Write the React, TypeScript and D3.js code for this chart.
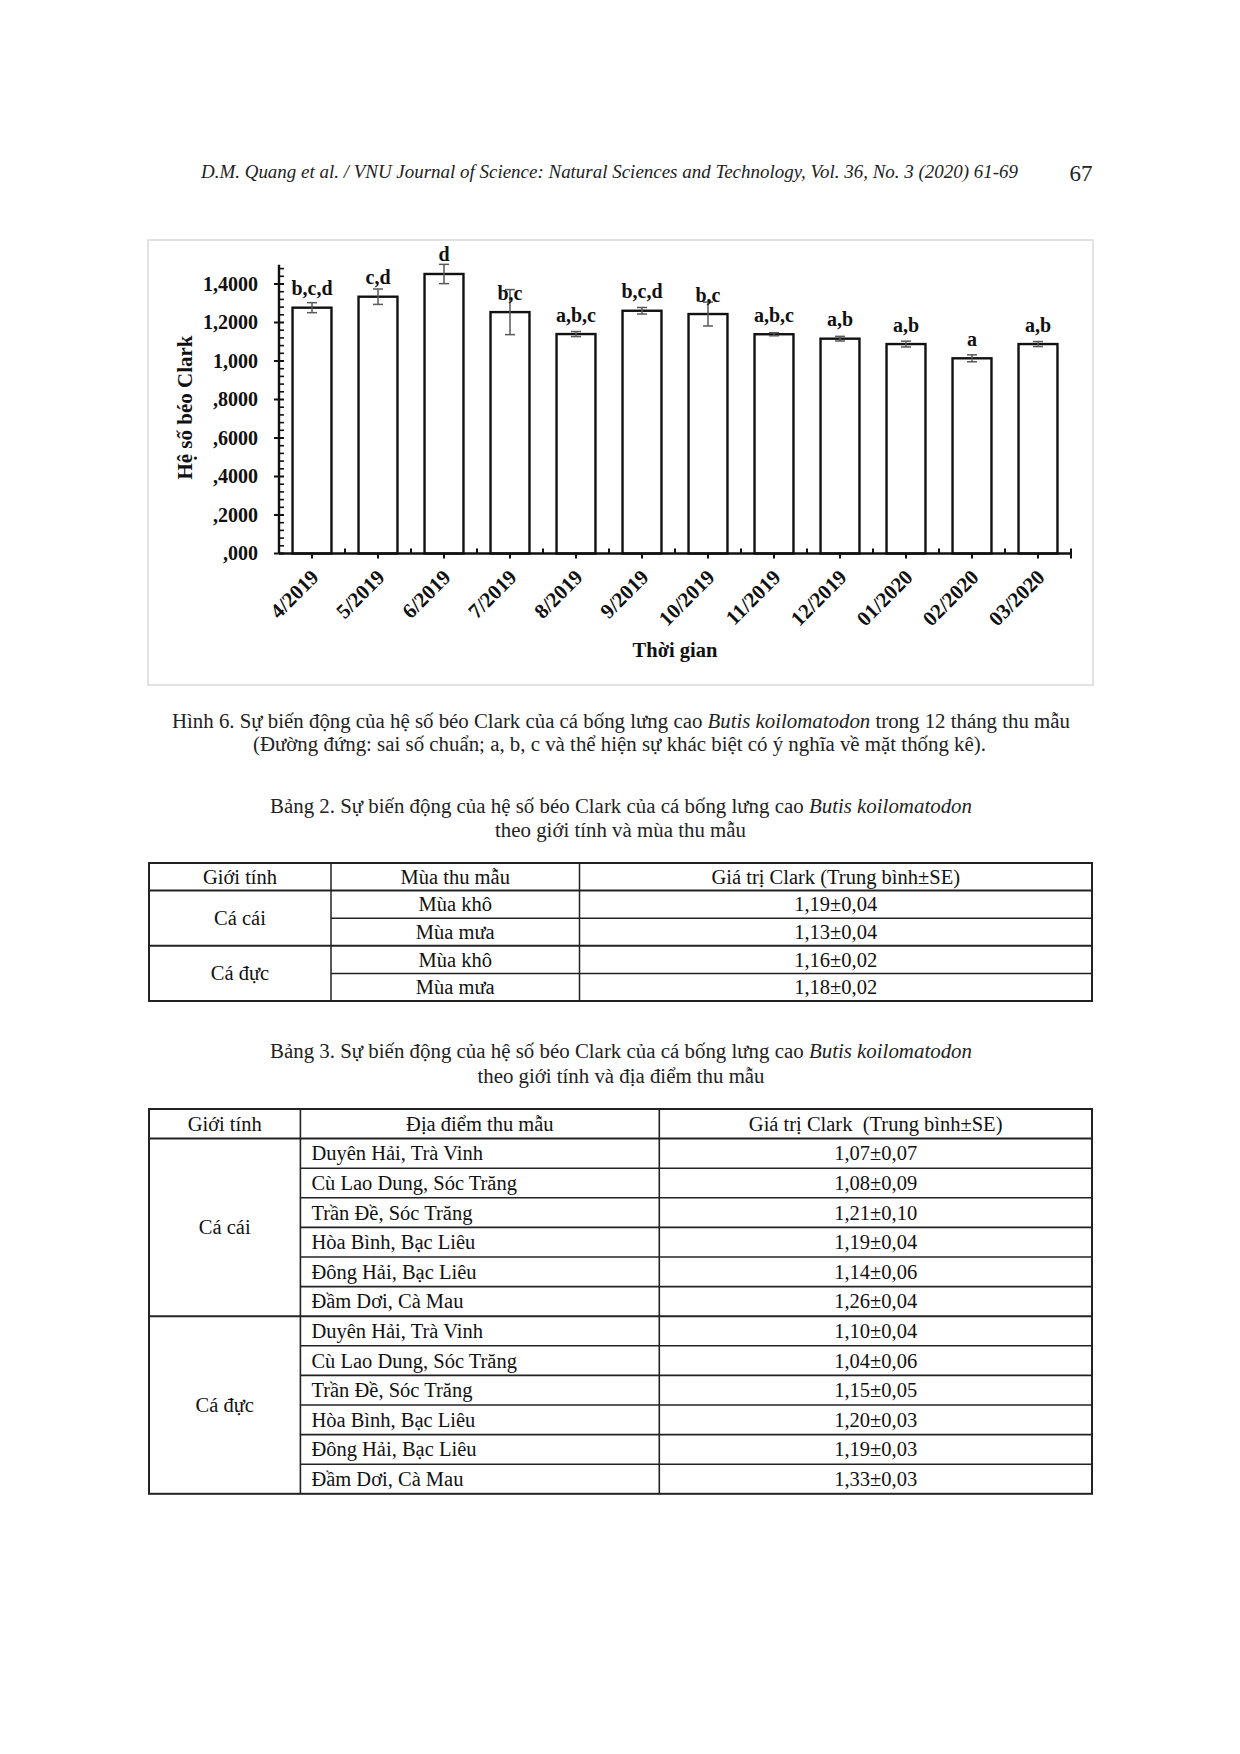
import React from 'react';
import * as d3 from 'd3';

const months = ['4/2019', '5/2019', '6/2019', '7/2019', '8/2019', '9/2019', '10/2019', '11/2019', '12/2019', '01/2020', '02/2020', '03/2020'];
const clarkMeans = [1.277, 1.334, 1.452, 1.254, 1.14, 1.261, 1.244, 1.139, 1.116, 1.088, 1.014, 1.088];
const clarkSE = [0.026, 0.04, 0.05, 0.117, 0.013, 0.017, 0.062, 0.008, 0.012, 0.015, 0.018, 0.013];
const sigLetters = ['b,c,d', 'c,d', 'd', 'b,c', 'a,b,c', 'b,c,d', 'b,c', 'a,b,c', 'a,b', 'a,b', 'a', 'a,b'];
const yTickValues = [0, 0.2, 0.4, 0.6, 0.8, 1.0, 1.2, 1.4];
const yTickLabels = [',000', ',2000', ',4000', ',6000', ',8000', '1,000', '1,2000', '1,4000'];

const t2Header = ['Giới tính', 'Mùa thu mẫu', 'Giá trị Clark (Trung bình±SE)'];
const t2Sex = ['Cá cái', 'Cá đực'];
const t2Season = ['Mùa khô', 'Mùa mưa', 'Mùa khô', 'Mùa mưa'];
const t2Values = ['1,19±0,04', '1,13±0,04', '1,16±0,02', '1,18±0,02'];

const t3Header = ['Giới tính', 'Địa điểm thu mẫu', 'Giá trị Clark  (Trung bình±SE)'];
const t3Sex = ['Cá cái', 'Cá đực'];
const t3Sites = [
  'Duyên Hải, Trà Vinh', 'Cù Lao Dung, Sóc Trăng', 'Trần Đề, Sóc Trăng', 'Hòa Bình, Bạc Liêu', 'Đông Hải, Bạc Liêu', 'Đầm Dơi, Cà Mau',
  'Duyên Hải, Trà Vinh', 'Cù Lao Dung, Sóc Trăng', 'Trần Đề, Sóc Trăng', 'Hòa Bình, Bạc Liêu', 'Đông Hải, Bạc Liêu', 'Đầm Dơi, Cà Mau',
];
const t3Values = [
  '1,07±0,07', '1,08±0,09', '1,21±0,10', '1,19±0,04', '1,14±0,06', '1,26±0,04',
  '1,10±0,04', '1,04±0,06', '1,15±0,05', '1,20±0,03', '1,19±0,03', '1,33±0,03',
];

const SERIF = '"Liberation Serif", "Times New Roman", "DejaVu Serif", serif';

function Chart() {
  const x0 = 279, x1 = 1071, yBottom = 553.5, yTop = 264.75;
  const x = d3.scaleBand<string>().domain(months).range([x0, x1]).padding(0);
  const y = d3.scaleLinear().domain([0, 1.5]).range([yBottom, yTop]);
  const barW = x.bandwidth() * 0.59;
  const minor = d3.range(0, 38).map((i) => i * 0.04).filter((v) => Math.abs(v / 0.2 - Math.round(v / 0.2)) > 1e-6);
  return (
    <g fontFamily={SERIF}>
      <rect x={148} y={240} width={945} height={445} fill="#fff" stroke="#d9d9d9" strokeWidth={1.5} />
      {months.map((m, i) => {
        const cx = x(m)! + x.bandwidth() / 2;
        const v = clarkMeans[i];
        const se = clarkSE[i];
        return (
          <g key={m}>
            <rect x={cx - barW / 2} y={y(v)} width={barW} height={y(0) - y(v)} fill="#fff" stroke="#111" strokeWidth={2.4} />
            <g stroke="#595959" strokeWidth={1.5}>
              <line x1={cx} x2={cx} y1={y(v + se)} y2={y(v - se)} />
              <line x1={cx - 5} x2={cx + 5} y1={y(v + se)} y2={y(v + se)} />
              <line x1={cx - 5} x2={cx + 5} y1={y(v - se)} y2={y(v - se)} />
            </g>
            <text x={cx} y={y(v) - 12.5} textAnchor="middle" fontSize={20} fontWeight="bold" fill="#111">{sigLetters[i]}</text>
            <line x1={cx} x2={cx} y1={yBottom} y2={yBottom + 5} stroke="#111" strokeWidth={2} />
            <text transform={`translate(${cx + 8},${yBottom + 25}) rotate(-45)`} textAnchor="end" fontSize={21} fontWeight="bold" fill="#111">{m}</text>
          </g>
        );
      })}
      {months.slice(1).map((m) => (
        <line key={'b' + m} x1={x(m)!} x2={x(m)!} y1={yBottom} y2={yBottom - 5} stroke="#111" strokeWidth={2} />
      ))}
      <line x1={x1} x2={x1} y1={yBottom - 5} y2={yBottom + 5} stroke="#111" strokeWidth={2} />
      <line x1={x0} x2={x1} y1={yBottom} y2={yBottom} stroke="#111" strokeWidth={2.4} />
      <line x1={x0} x2={x0} y1={y(0)} y2={y(1.5)} stroke="#111" strokeWidth={2.4} />
      {minor.map((v) => (
        <line key={'m' + v} x1={x0} x2={x0 + 5} y1={y(v)} y2={y(v)} stroke="#111" strokeWidth={1.6} />
      ))}
      {yTickValues.map((v, i) => (
        <g key={'t' + v}>
          <line x1={x0 - 5} x2={x0 + 5} y1={y(v)} y2={y(v)} stroke="#111" strokeWidth={2} />
          <text x={258} y={y(v) + 6.8} textAnchor="end" fontSize={20} fontWeight="bold" fill="#111">{yTickLabels[i]}</text>
        </g>
      ))}
      <text transform="translate(191.5,407.5) rotate(-90)" textAnchor="middle" fontSize={21} fontWeight="bold" fill="#111">Hệ số béo Clark</text>
      <text x={675} y={657} textAnchor="middle" fontSize={20.5} fontWeight="bold" fill="#111">Thời gian</text>
    </g>
  );
}

function Table2() {
  const cols = [149, 331, 579.5, 1092];
  const top = 863;
  const rowH = 27.6;
  const ry = (k: number) => top + rowH * k;
  const fs = 20.5;
  const cx = (c: number) => (cols[c] + cols[c + 1]) / 2;
  return (
    <g fontFamily={SERIF} fontSize={fs} fill="#111">
      {t2Header.map((h, c) => (
        <text key={h} x={cx(c)} y={ry(0.5) + 7} textAnchor="middle">{h}</text>
      ))}
      {t2Sex.map((s, g) => (
        <text key={s} x={cx(0)} y={ry(2 + 2 * g) + 7} textAnchor="middle">{s}</text>
      ))}
      {t2Season.map((s, r) => (
        <g key={'r' + r}>
          <text x={cx(1)} y={ry(1.5 + r) + 7} textAnchor="middle">{s}</text>
          <text x={cx(2)} y={ry(1.5 + r) + 7} textAnchor="middle">{t2Values[r]}</text>
        </g>
      ))}
      <g stroke="#222" fill="none">
        <rect x={cols[0]} y={top} width={cols[3] - cols[0]} height={rowH * 5} strokeWidth={2} />
        <line x1={cols[0]} x2={cols[3]} y1={ry(1)} y2={ry(1)} strokeWidth={2} />
        <line x1={cols[0]} x2={cols[3]} y1={ry(3)} y2={ry(3)} strokeWidth={2} />
        <line x1={cols[1]} x2={cols[3]} y1={ry(2)} y2={ry(2)} strokeWidth={1.5} />
        <line x1={cols[1]} x2={cols[3]} y1={ry(4)} y2={ry(4)} strokeWidth={1.5} />
        <line x1={cols[1]} x2={cols[1]} y1={top} y2={ry(5)} strokeWidth={1.5} />
        <line x1={cols[2]} x2={cols[2]} y1={top} y2={ry(5)} strokeWidth={1.5} />
      </g>
    </g>
  );
}

function Table3() {
  const cols = [149, 300.4, 659.3, 1092];
  const top = 1109;
  const rowH = 29.6;
  const ry = (k: number) => top + rowH * k;
  const fs = 20.5;
  const cx = (c: number) => (cols[c] + cols[c + 1]) / 2;
  return (
    <g fontFamily={SERIF} fontSize={fs} fill="#111">
      {t3Header.map((h, c) => (
        <text key={h} x={cx(c)} y={ry(0.5) + 7} textAnchor="middle" style={{ whiteSpace: 'pre' }}>{h}</text>
      ))}
      {t3Sex.map((s, g) => (
        <text key={s} x={cx(0)} y={ry(4 + 6 * g) + 7} textAnchor="middle">{s}</text>
      ))}
      {t3Sites.map((s, r) => (
        <g key={'r' + r}>
          <text x={cols[1] + 11} y={ry(1.5 + r) + 7}>{s}</text>
          <text x={cx(2)} y={ry(1.5 + r) + 7} textAnchor="middle">{t3Values[r]}</text>
        </g>
      ))}
      <g stroke="#222" fill="none">
        <rect x={cols[0]} y={top} width={cols[3] - cols[0]} height={rowH * 13} strokeWidth={2} />
        <line x1={cols[0]} x2={cols[3]} y1={ry(1)} y2={ry(1)} strokeWidth={2} />
        <line x1={cols[0]} x2={cols[3]} y1={ry(7)} y2={ry(7)} strokeWidth={2} />
        {d3.range(2, 13).filter((k) => k !== 7).map((k) => (
          <line key={'h' + k} x1={cols[1]} x2={cols[3]} y1={ry(k)} y2={ry(k)} strokeWidth={1.6} />
        ))}
        <line x1={cols[1]} x2={cols[1]} y1={top} y2={ry(13)} strokeWidth={1.6} />
        <line x1={cols[2]} x2={cols[2]} y1={top} y2={ry(13)} strokeWidth={1.6} />
      </g>
    </g>
  );
}

export default function App() {
  return (
    <svg width={1240} height={1754} viewBox="0 0 1240 1754" style={{ position: 'absolute', left: 0, top: 0, background: '#fff' }}>
      <rect x={0} y={0} width={1240} height={1754} fill="#fff" />
      <g fontFamily={SERIF} fill="#222">
        <text x={201} y={177.5} fontSize={18.5} fontStyle="italic" textLength={817} lengthAdjust="spacingAndGlyphs">
          D.M. Quang et al. / VNU Journal of Science: Natural Sciences and Technology, Vol. 36, No. 3 (2020) 61-69
        </text>
        <text x={1081} y={181} fontSize={23} textAnchor="middle">67</text>
      </g>
      <Chart />
      <g fontFamily={SERIF} fontSize={20.5} fill="#222" textAnchor="middle">
        <text x={621} y={728} textLength={898} lengthAdjust="spacingAndGlyphs">
          Hình 6. Sự biến động của hệ số béo Clark của cá bống lưng cao <tspan fontStyle="italic">Butis koilomatodon</tspan> trong 12 tháng thu mẫu
        </text>
        <text x={619.5} y={751} textLength={733} lengthAdjust="spacingAndGlyphs">
          (Đường đứng: sai số chuẩn; a, b, c và thể hiện sự khác biệt có ý nghĩa về mặt thống kê).
        </text>
        <text x={621} y={813} textLength={702} lengthAdjust="spacingAndGlyphs">
          Bảng 2. Sự biến động của hệ số béo Clark của cá bống lưng cao <tspan fontStyle="italic">Butis koilomatodon</tspan>
        </text>
        <text x={620.5} y={837} textLength={251} lengthAdjust="spacingAndGlyphs">theo giới tính và mùa thu mẫu</text>
        <text x={621} y={1058} textLength={702} lengthAdjust="spacingAndGlyphs">
          Bảng 3. Sự biến động của hệ số béo Clark của cá bống lưng cao <tspan fontStyle="italic">Butis koilomatodon</tspan>
        </text>
        <text x={621} y={1083} textLength={287} lengthAdjust="spacingAndGlyphs">theo giới tính và địa điểm thu mẫu</text>
      </g>
      <Table2 />
      <Table3 />
    </svg>
  );
}
